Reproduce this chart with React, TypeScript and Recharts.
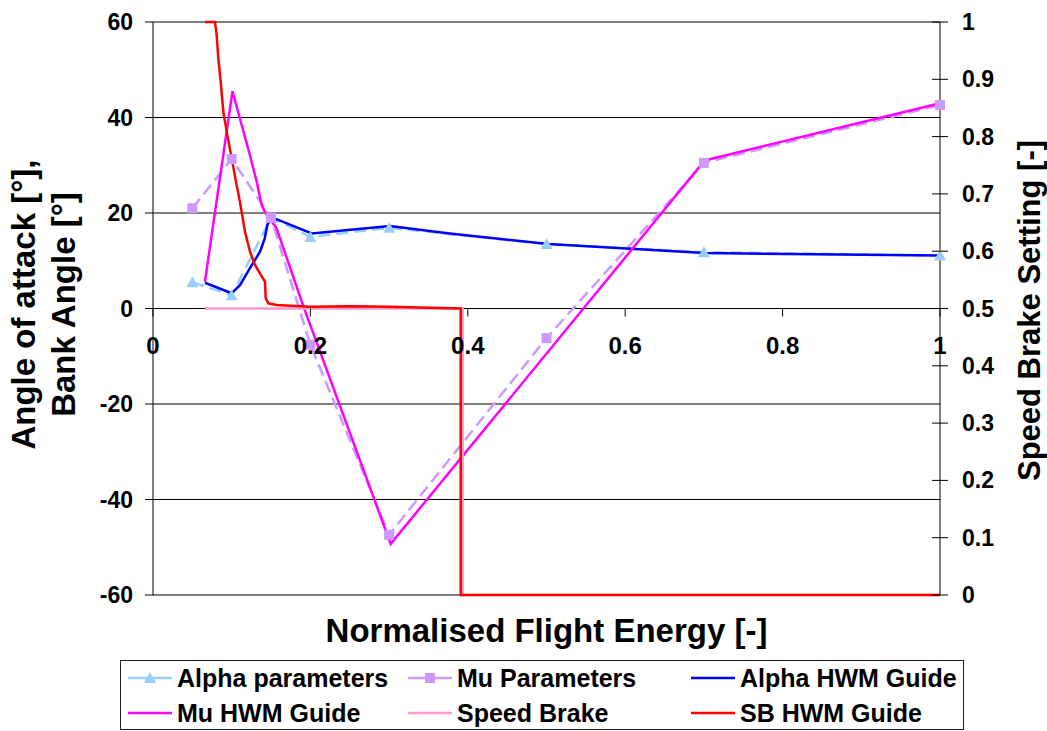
import { LineChart, Line, XAxis, YAxis, CartesianGrid, Label } from "recharts";

const FONT = "'Liberation Sans', Arial, Helvetica, sans-serif";

// plot geometry
const W = 1047;
const H = 731;
const PLOT_TOP = 22;
const PLOT_BOTTOM = 595;
const LEFT_W = 153;
const RIGHT_W = 107;
const LEFT_DOMAIN: [number, number] = [-60, 60];
const ZERO_Y = PLOT_TOP + ((LEFT_DOMAIN[1] - 0) / (LEFT_DOMAIN[1] - LEFT_DOMAIN[0])) * (PLOT_BOTTOM - PLOT_TOP);
const R_TICK_SIZE = 8;
const R_TICK_MARGIN = 14;

// ticks
const X_TICKS = [0, 0.2, 0.4, 0.6, 0.8, 1];
const LEFT_TICKS = [-60, -40, -20, 0, 20, 40, 60];
const RIGHT_TICKS = [0, 0.1, 0.2, 0.3, 0.4, 0.5, 0.6, 0.7, 0.8, 0.9, 1];

// parameter nodes (shared x)
const PARAM_X = [0.05, 0.1, 0.15, 0.2, 0.3, 0.5, 0.7, 1.0];
const ALPHA_PARAM_Y = [5.5, 2.8, 19, 15, 16.9, 13.5, 11.8, 11.1];
const MU_PARAM_Y = [21, 31.3, 19, -7.6, -47.4, -6.2, 30.5, 42.6];

// guidance output
const ALPHA_HWM_X = [0.066, 0.1, 0.1105, 0.123, 0.136, 0.142, 0.1453, 0.1487, 0.157, 0.2017, 0.301, 0.377, 0.502, 0.701, 1.0];
const ALPHA_HWM_Y = [5.4, 3.2, 4.9, 8.4, 11.9, 14.7, 17.5, 18.5, 18.7, 15.7, 17.3, 15.7, 13.5, 11.6, 11.1];
const MU_HWM_X = [0.066, 0.101, 0.123, 0.1317, 0.138, 0.142, 0.157, 0.191, 0.302, 0.701, 1.0];
const MU_HWM_Y = [5.6, 45.5, 32.2, 26.6, 21.7, 20.3, 16.8, 0.5, -49.3, 31, 43];

// speed brake (right axis)
const SB_X = [0.066, 0.3935, 0.3935, 1.0];
const SB_Y = [0.5, 0.5, 0, 0];
const SB_HWM_X = [0.066, 0.0788, 0.0809, 0.083, 0.086, 0.0894, 0.0944, 0.1, 0.1055, 0.1105, 0.1169, 0.1233, 0.1296, 0.136, 0.1423, 0.1432, 0.1465, 0.157, 0.1995, 0.25, 0.3, 0.391, 0.391, 1.0];
const SB_HWM_Y = [1, 1, 0.977, 0.937, 0.896, 0.843, 0.803, 0.762, 0.721, 0.686, 0.634, 0.599, 0.576, 0.561, 0.547, 0.518, 0.509, 0.506, 0.503, 0.504, 0.503, 0.5, 0, 0];

const zip = (xs: number[], ys: number[]) => xs.map((x, i) => ({ x, y: ys[i] }));

const alphaParams = zip(PARAM_X, ALPHA_PARAM_Y);
const muParams = zip(PARAM_X, MU_PARAM_Y);
const alphaHwm = zip(ALPHA_HWM_X, ALPHA_HWM_Y);
const muHwm = zip(MU_HWM_X, MU_HWM_Y);
const speedBrake = zip(SB_X, SB_Y);
const sbHwm = zip(SB_HWM_X, SB_HWM_Y);

const C = {
  alphaParams: "#99CCFF",
  muParams: "#CC99FF",
  alphaHwm: "#0000FF",
  muHwm: "#FF00FF",
  speedBrake: "#FF99CC",
  sbHwm: "#FF0000",
};

const TICK_TEXT = { fontSize: 23, fontWeight: 700, fill: "#000", fontFamily: FONT } as const;

function triangle(props: any) {
  const { cx, cy, index } = props;
  return <path key={`t${index}`} d={`M${cx},${cy - 6} L${cx + 6},${cy + 5} L${cx - 6},${cy + 5} Z`} fill={C.alphaParams} />;
}

function square(props: any) {
  const { cx, cy, index } = props;
  return <rect key={`s${index}`} x={cx - 5} y={cy - 5} width={10} height={10} fill={C.muParams} />;
}

// x axis sits on the zero line, labels hang below it
function XTick(props: any) {
  const { x, payload } = props;
  return (
    <g>
      <line x1={x} x2={x} y1={ZERO_Y} y2={ZERO_Y + 8} stroke="#000" />
      <text x={x} y={ZERO_Y + 37} textAnchor="middle" dominantBaseline="central" {...TICK_TEXT} fontSize={24}>
        {payload.value}
      </text>
    </g>
  );
}

// right axis ticks cross the axis line
function RightTick(props: any) {
  const { x, y, payload } = props;
  const ax = x - R_TICK_SIZE - R_TICK_MARGIN;
  return (
    <g>
      <line x1={ax - 8} x2={ax + 8} y1={y} y2={y} stroke="#000" />
      <text x={x} y={y} textAnchor="start" dominantBaseline="central" {...TICK_TEXT}>
        {payload.value}
      </text>
    </g>
  );
}

function LeftTitle() {
  const cy = (PLOT_TOP + PLOT_BOTTOM) / 2 - 4;
  const style = { fontSize: 33, fontWeight: 700, fill: "#000", fontFamily: FONT } as const;
  return (
    <g>
      <text x={35} y={cy} textAnchor="middle" transform={`rotate(-90, 35, ${cy})`} {...style}>
        Angle of attack [°],
      </text>
      <text x={75} y={cy} textAnchor="middle" transform={`rotate(-90, 75, ${cy})`} {...style}>
        Bank Angle [°]
      </text>
    </g>
  );
}

function RightTitle() {
  const cy = (PLOT_TOP + PLOT_BOTTOM) / 2 + 2;
  const bx = 1040;
  return (
    <text x={bx} y={cy} textAnchor="middle" transform={`rotate(-90, ${bx}, ${cy})`}
          fontSize={31} fontWeight={700} fill="#000" fontFamily={FONT}>
      Speed Brake Setting [-]
    </text>
  );
}

function XTitle(props: any) {
  const vb = props.viewBox || { x: LEFT_W, y: PLOT_BOTTOM, width: W - LEFT_W - RIGHT_W };
  return (
    <text x={vb.x + vb.width / 2} y={PLOT_BOTTOM + 35} textAnchor="middle" dominantBaseline="central"
          fontSize={33} fontWeight={700} fill="#000" fontFamily={FONT}>
      Normalised Flight Energy [-]
    </text>
  );
}

const LEGEND_ITEMS = [
  { name: "Alpha parameters", color: C.alphaParams, marker: "triangle" },
  { name: "Mu Parameters", color: C.muParams, marker: "square" },
  { name: "Alpha HWM Guide", color: C.alphaHwm, marker: "" },
  { name: "Mu HWM Guide", color: C.muHwm, marker: "" },
  { name: "Speed Brake", color: C.speedBrake, marker: "" },
  { name: "SB HWM Guide", color: C.sbHwm, marker: "" },
];
const LEGEND_COLS = [7, 287, 570];
const LEGEND_ROWS = [17, 52];

function LegendBox() {
  return (
    <div style={{
      position: "absolute", left: 120, top: 660, width: 842, height: 68,
      border: "1px solid #222", background: "#fff", fontFamily: FONT,
    }}>
      {LEGEND_ITEMS.map((it, i) => {
        const left = LEGEND_COLS[i % 3];
        const top = LEGEND_ROWS[Math.floor(i / 3)];
        return (
          <div key={it.name} style={{ position: "absolute", left, top: top - 15, height: 30, display: "flex", alignItems: "center" }}>
            <svg width={44} height={14} style={{ display: "block" }}>
              <line x1={0} x2={44} y1={7} y2={7} stroke={it.color} strokeWidth={2.5} />
              {it.marker === "triangle" && <path d="M22,1 L28,12 L16,12 Z" fill={it.color} />}
              {it.marker === "square" && <rect x={17} y={2} width={10} height={10} fill={it.color} />}
            </svg>
            <span style={{ marginLeft: 5, fontSize: 25, fontWeight: 700, color: "#000", whiteSpace: "nowrap", lineHeight: "30px" }}>
              {it.name}
            </span>
          </div>
        );
      })}
    </div>
  );
}

export default function App() {
  return (
    <div style={{ position: "absolute", left: 0, top: 0, width: W, height: H, background: "#fff", overflow: "hidden" }}>
      <LineChart width={W} height={H} margin={{ top: PLOT_TOP, right: 0, bottom: 0, left: 0 }}>
        <CartesianGrid yAxisId="left" vertical={false} stroke="#000" strokeWidth={1} />
        <XAxis type="number" dataKey="x" domain={[0, 1]} ticks={X_TICKS} interval={0}
               axisLine={false} tickLine={false} tick={<XTick />} height={H - PLOT_BOTTOM}>
          <Label content={<XTitle />} />
        </XAxis>
        <YAxis yAxisId="left" domain={LEFT_DOMAIN} ticks={LEFT_TICKS} interval={0} width={LEFT_W}
               axisLine={{ stroke: "#000" }} tickLine={{ stroke: "#000" }} tickSize={8} tickMargin={12}
               tick={TICK_TEXT}>
          <Label content={<LeftTitle />} />
        </YAxis>
        <YAxis yAxisId="right" orientation="right" domain={[0, 1]} ticks={RIGHT_TICKS} interval={0} width={RIGHT_W}
               axisLine={{ stroke: "#000" }} tickLine={false} tickSize={R_TICK_SIZE} tickMargin={R_TICK_MARGIN}
               tick={<RightTick />}>
          <Label content={<RightTitle />} />
        </YAxis>

        <Line yAxisId="left" data={alphaParams} dataKey="y" stroke={C.alphaParams} strokeWidth={2.5}
              strokeDasharray="12 6" dot={triangle} activeDot={false} isAnimationActive={false} />
        <Line yAxisId="left" data={muParams} dataKey="y" stroke={C.muParams} strokeWidth={2.5}
              strokeDasharray="12 6" dot={square} activeDot={false} isAnimationActive={false} />
        <Line yAxisId="left" data={alphaHwm} dataKey="y" stroke={C.alphaHwm} strokeWidth={2.5}
              dot={false} activeDot={false} isAnimationActive={false} />
        <Line yAxisId="left" data={muHwm} dataKey="y" stroke={C.muHwm} strokeWidth={2.5}
              dot={false} activeDot={false} isAnimationActive={false} />
        <Line yAxisId="right" data={speedBrake} dataKey="y" stroke={C.speedBrake} strokeWidth={2.5}
              dot={false} activeDot={false} isAnimationActive={false} />
        <Line yAxisId="right" data={sbHwm} dataKey="y" stroke={C.sbHwm} strokeWidth={2.5}
              dot={false} activeDot={false} isAnimationActive={false} />
      </LineChart>
      <LegendBox />
    </div>
  );
}
